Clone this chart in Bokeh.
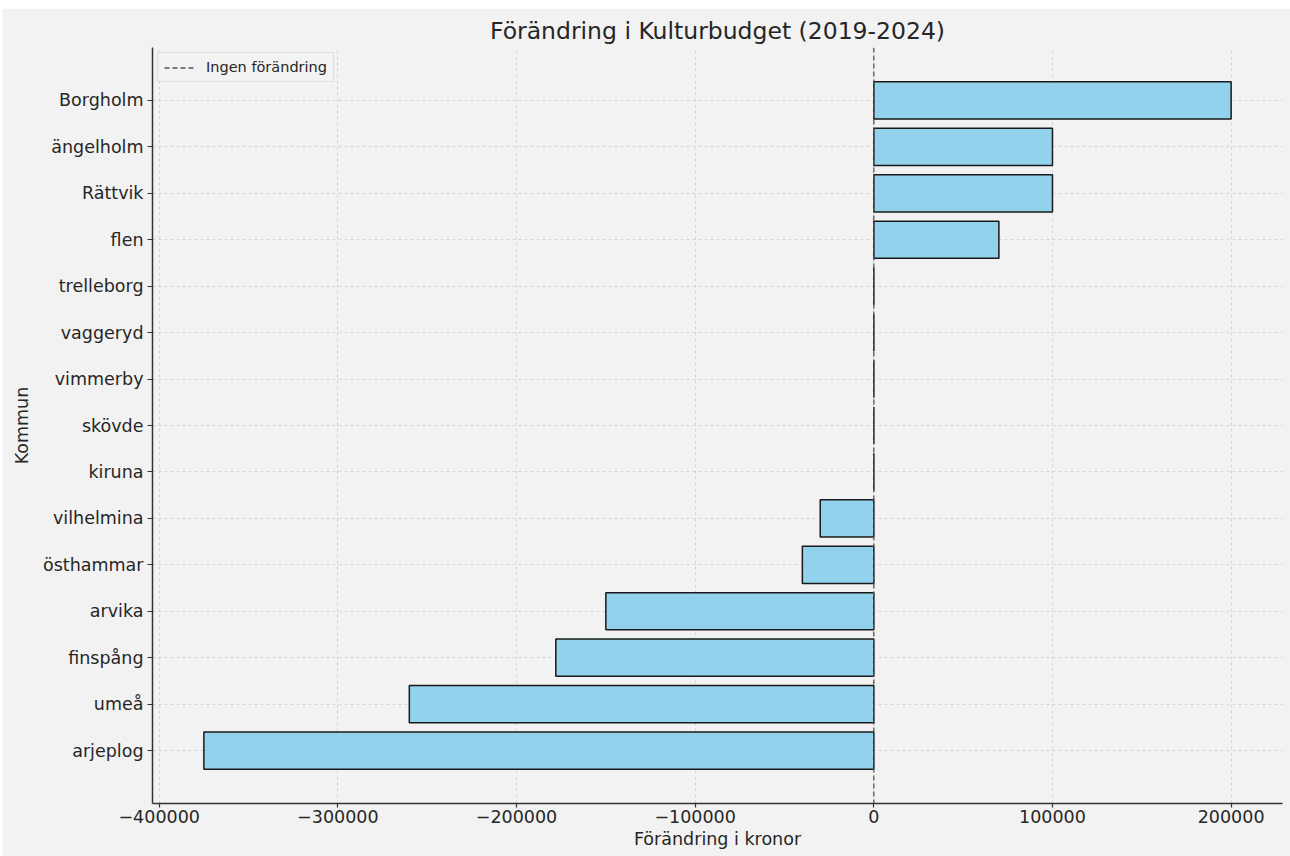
from bokeh.plotting import figure
from bokeh.models import FactorRange, Range1d, FixedTicker, Span, Legend, LegendItem, Spacer
from bokeh.layouts import column, row
from bokeh.embed import file_html
from bokeh.resources import INLINE

# ---- data ----
kommuner = ["Borgholm", "ängelholm", "Rättvik", "flen", "trelleborg", "vaggeryd",
            "vimmerby", "skövde", "kiruna", "vilhelmina", "östhammar", "arvika",
            "finspång", "umeå", "arjeplog"]
forandring = [200000, 100000, 100000, 70000, 0, 0, 0, 0, 0,
              -30000, -40000, -150000, -178000, -260000, -375000]
x_ticks = [-400000, -300000, -200000, -100000, 0, 100000, 200000]
x_tick_labels = ["−400000", "−300000", "−200000", "−100000", "0", "100000", "200000"]
zero_level = 0

title_text = "Förändring i Kulturbudget (2019-2024)"
x_label = "Förändring i kronor"
y_label = "Kommun"
legend_text = "Ingen förändring"

FONT = "DejaVu Sans"
TXT = "#262626"
BG = "#f2f2f2"

factors = list(reversed(kommuner))
yr = FactorRange(factors=factors, range_padding=0.64, range_padding_units="absolute")
xr = Range1d(-403750, 228750)

p = figure(width=1288, height=848, y_range=yr, x_range=xr,
           output_backend="svg", toolbar_location=None,
           min_border_top=39, min_border_right=8, min_border_left=150, min_border_bottom=53)

p.background_fill_color = BG
p.border_fill_color = BG
p.outline_line_color = None

p.title.text = title_text
p.title.align = "center"
p.title.text_font = FONT
p.title.text_font_size = "23.5px"
p.title.text_font_style = "normal"
p.title.text_color = TXT
p.title.standoff = 6

# grid
for g in (p.xgrid, p.ygrid):
    g.grid_line_color = "#d4d4d4"
    g.grid_line_dash = "3 3"
    g.grid_line_width = 1
p.xgrid.ticker = FixedTicker(ticks=x_ticks)

# bars
p.hbar(y=kommuner, left=0, right=forandring, height=0.8,
       fill_color="#87ceeb", fill_alpha=0.9, line_color="#1a1a1a", line_width=1.5)

# zero line
zero = Span(location=zero_level, dimension="height", line_color="#555555",
            line_dash="5 3", line_width=1.3)
p.add_layout(zero)
dummy = p.line(x=[zero_level], y=[kommuner[-1]], line_color="#555555",
               line_dash="5 3", line_width=1.3)

legend = Legend(items=[LegendItem(label=legend_text, renderers=[dummy])],
                location="top_left")
legend.margin = 5
legend.padding = 6
legend.spacing = 0
legend.glyph_width = 30
legend.glyph_height = 15
legend.label_height = 15
legend.label_standoff = 12
legend.label_text_font = FONT
legend.label_text_font_size = "14.5px"
legend.label_text_color = TXT
legend.border_line_color = "#cccccc"
legend.border_line_width = 1
legend.background_fill_color = BG
legend.background_fill_alpha = 0.8
p.add_layout(legend)

# axes
p.xaxis.ticker = FixedTicker(ticks=x_ticks)
p.xaxis.major_label_overrides = {t: l for t, l in zip(x_ticks, x_tick_labels)}
for ax in (p.xaxis, p.yaxis):
    ax.axis_line_color = "#333333"
    ax.axis_line_width = 1.5
    ax.major_tick_line_color = "#333333"
    ax.major_tick_line_width = 1.2
    ax.major_tick_in = 0
    ax.major_tick_out = 5
    ax.minor_tick_line_color = None
    ax.major_label_text_font = FONT
    ax.major_label_text_font_size = "17.5px"
    ax.major_label_text_color = TXT
    ax.axis_label_text_font = FONT
    ax.axis_label_text_font_size = "17.5px"
    ax.axis_label_text_font_style = "normal"
    ax.axis_label_text_color = TXT
    ax.major_label_standoff = 3
    ax.axis_label_standoff = 3
p.xaxis.major_tick_out = 4
p.xaxis.major_label_standoff = 2
p.xaxis.axis_label_standoff = 3
p.yaxis.axis_label = y_label
p.xaxis.axis_label = x_label
p.yaxis.major_label_standoff = 4
p.yaxis.axis_label_standoff = 8

layout = column(Spacer(width=1290, height=8), row(Spacer(width=2, height=848), p))

open("out.html", "w").write(file_html(layout, INLINE))
